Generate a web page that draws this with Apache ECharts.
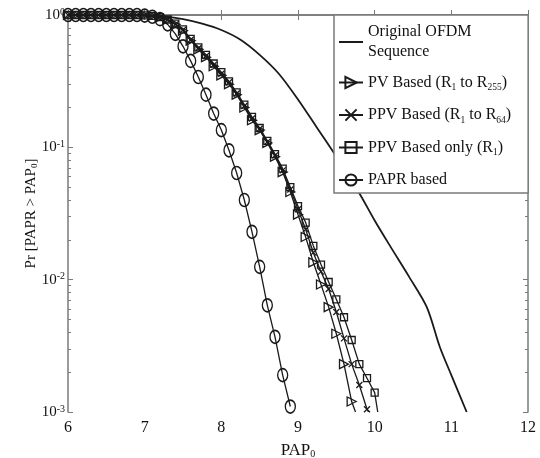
<!DOCTYPE html>
<html>
<head>
<meta charset="utf-8">
<script src="https://cdn.jsdelivr.net/npm/echarts@6/dist/echarts.min.js"></script>
<style>
  html, body { margin: 0; padding: 0; background: #fff; }
  #chart { width: 540px; height: 458px; }
</style>
</head>
<body>
<div id="chart"></div>
<script>
// x positions of the markers (PAP0 in dB)
var stepX = [6.0, 6.1, 6.2, 6.3, 6.4, 6.5, 6.6, 6.7, 6.8, 6.9,
             7.0, 7.1, 7.2, 7.3, 7.4, 7.5, 7.6, 7.7, 7.8, 7.9,
             8.0, 8.1, 8.2, 8.3, 8.4, 8.5, 8.6, 8.7, 8.8, 8.9,
             9.0, 9.1, 9.2, 9.3, 9.4, 9.5, 9.6, 9.7, 9.8, 9.9, 10.0];

// original OFDM sequence (no markers)
var ofdmX = [6.0, 6.5, 7.0, 7.25, 7.5, 7.75, 8.0, 8.25, 8.5, 8.75, 9.0, 9.25, 9.5, 9.8, 10.0, 10.2, 10.45, 10.68, 10.85, 11.0, 11.2];
var ofdmY = [1, 1, 0.995, 0.975, 0.93, 0.86, 0.77, 0.65, 0.5, 0.36, 0.23, 0.14, 0.085, 0.045, 0.028, 0.018, 0.0105, 0.0062, 0.0031, 0.0019, 0.001];

// PV based (R1 to R255)
var pvY = [1, 1, 1, 1, 1, 1, 1, 1, 1, 1,
           0.995, 0.985, 0.96, 0.92, 0.85, 0.76, 0.64, 0.55, 0.48, 0.41,
           0.35, 0.30, 0.25, 0.20, 0.16, 0.135, 0.108, 0.085, 0.065, 0.046,
           0.031, 0.021, 0.0135, 0.0092, 0.0062, 0.0039, 0.0023, 0.0012];
var pvEnd = [9.75, 0.001];

// PPV based (R1 to R64)
var ppv64Y = [1, 1, 1, 1, 1, 1, 1, 1, 1, 1,
              0.995, 0.985, 0.96, 0.92, 0.85, 0.77, 0.65, 0.56, 0.49, 0.42,
              0.36, 0.31, 0.255, 0.205, 0.165, 0.138, 0.11, 0.087, 0.067, 0.048,
              0.034, 0.024, 0.016, 0.0115, 0.0085, 0.0057, 0.0036, 0.0023, 0.0016, 0.00105];
var ppv64End = [9.92, 0.001];

// PPV based only (R1)
var ppv1Y = [1, 1, 1, 1, 1, 1, 1, 1, 1, 1,
             0.995, 0.985, 0.965, 0.925, 0.86, 0.78, 0.66, 0.57, 0.5, 0.43,
             0.37, 0.315, 0.26, 0.21, 0.17, 0.14, 0.112, 0.089, 0.069, 0.05,
             0.036, 0.027, 0.018, 0.013, 0.0096, 0.0071, 0.0052, 0.0035, 0.0023, 0.0018, 0.0014];
var ppv1End = [10.04, 0.001];

// PAPR based
var paprY = [1, 1, 1, 1, 1, 1, 1, 1, 1, 1,
             0.99, 0.97, 0.93, 0.85, 0.72, 0.58, 0.45, 0.34, 0.25, 0.18,
             0.135, 0.095, 0.064, 0.04, 0.023, 0.0125, 0.0064, 0.0037, 0.0019, 0.0011];

var yDecades = [-3, -2, -1, 0];
var minorTickLog = [];
yDecades.slice(0, 3).forEach(function (d) {
  [2, 3, 4, 5, 6, 7, 8, 9].forEach(function (k) {
    minorTickLog.push(d + Math.log10(k));
  });
});

var FONT = "Liberation Serif";
var INK = "#1a1a1a";
var AXIS = "#7a7a7a";

function pairs(xs, ys) {
  return ys.map(function (y, i) { return [xs[i], y]; });
}
function withEnd(list, end) {
  return list.concat([{ value: end, symbol: "none" }]);
}

var markerStyle = { color: "transparent", borderColor: INK, borderWidth: 1.3 };

var names = [
  "Original OFDM Sequence",
  "PV Based (R1 to R255)",
  "PPV Based (R1 to R64)",
  "PPV Based only (R1)",
  "PAPR based"
];
var legendText = {};
legendText[names[0]] = "{t|Original OFDM}\n{t|Sequence}";
legendText[names[1]] = "{t|PV Based (R}{s|1}{t| to R}{s|255}{t|)}";
legendText[names[2]] = "{t|PPV Based (R}{s|1}{t| to R}{s|64}{t|)}";
legendText[names[3]] = "{t|PPV Based only (R}{s|1}{t|)}";
legendText[names[4]] = "{t|PAPR based}";

var hiddenAxisParts = {
  axisLabel: { show: false },
  splitLine: { show: false }
};

var option = {
  animation: false,
  backgroundColor: "#fff",
  grid: { left: 68, right: 12, top: 15, bottom: 46, containLabel: false, outerBoundsMode: "none" },
  legend: {
    orient: "vertical",
    left: 334,
    top: 15,
    padding: [9, 17, 5, 4],
    itemWidth: 24,
    itemHeight: 14,
    itemGap: 14.5,
    borderColor: AXIS,
    borderWidth: 1.5,
    backgroundColor: "#fff",
    selectedMode: false,
    data: [
      { name: names[0], itemStyle: { color: "transparent", borderColor: "transparent" } },
      names[1], names[2], names[3], names[4]
    ],
    formatter: function (name) { return legendText[name]; },
    textStyle: {
      color: "#111",
      fontFamily: FONT,
      rich: {
        t: { fontSize: 16, lineHeight: 20, fontFamily: FONT, color: "#111" },
        s: { fontSize: 9.5, lineHeight: 8, verticalAlign: "bottom", fontFamily: FONT, color: "#111" }
      }
    }
  },
  xAxis: [
    {
      type: "value",
      min: 6,
      max: 12,
      interval: 1,
      position: "bottom",
      name: "PAP{s|0}",
      nameLocation: "middle",
      nameGap: 30,
      nameMoveOverlap: false,
      nameTextStyle: {
        fontFamily: FONT,
        fontSize: 17,
        color: "#111",
        rich: { s: { fontSize: 10, verticalAlign: "bottom", lineHeight: 8, fontFamily: FONT, color: "#111" } }
      },
      axisLine: { lineStyle: { color: AXIS, width: 1.5 } },
      axisTick: { inside: true, length: 5, lineStyle: { color: AXIS } },
      axisLabel: { fontFamily: FONT, fontSize: 16, color: "#111", margin: 8 },
      splitLine: { show: false }
    },
    Object.assign({
      type: "value",
      min: 6,
      max: 12,
      interval: 1,
      position: "top",
      axisLine: { lineStyle: { color: AXIS, width: 1.5 } },
      axisTick: { inside: true, length: 5, lineStyle: { color: AXIS } }
    }, hiddenAxisParts)
  ],
  yAxis: [
    {
      type: "log",
      logBase: 10,
      min: 0.001,
      max: 1,
      position: "left",
      name: "Pr [PAPR > PAP{s|0}]",
      nameLocation: "middle",
      nameGap: 29,
      nameMoveOverlap: false,
      nameRotate: 90,
      nameTextStyle: {
        fontFamily: FONT,
        fontSize: 15,
        color: "#111",
        rich: { s: { fontSize: 9, verticalAlign: "bottom", lineHeight: 8, fontFamily: FONT, color: "#111" } }
      },
      axisLine: { lineStyle: { color: AXIS, width: 1.5 } },
      axisTick: { inside: true, length: 5, lineStyle: { color: AXIS } },
      axisLabel: {
        margin: 3,
        formatter: function (v) {
          var e = Math.round(Math.log10(v));
          return "{b|10}{p|" + e + "}";
        },
        rich: {
          b: { fontFamily: FONT, fontSize: 15, color: "#111", lineHeight: 16 },
          p: { fontFamily: FONT, fontSize: 10, color: "#111", verticalAlign: "top", lineHeight: 10 }
        }
      },
      splitLine: { show: false }
    },
    Object.assign({
      type: "log",
      logBase: 10,
      min: 0.001,
      max: 1,
      position: "right",
      axisLine: { lineStyle: { color: AXIS, width: 1.5 } },
      axisTick: { inside: true, length: 5, lineStyle: { color: AXIS } }
    }, hiddenAxisParts),
    Object.assign({
      type: "value",
      min: -3,
      max: 0,
      position: "left",
      axisLine: { show: false },
      axisTick: { inside: true, length: 3, customValues: minorTickLog, lineStyle: { color: AXIS } }
    }, hiddenAxisParts),
    Object.assign({
      type: "value",
      min: -3,
      max: 0,
      position: "right",
      axisLine: { show: false },
      axisTick: { inside: true, length: 3, customValues: minorTickLog, lineStyle: { color: AXIS } }
    }, hiddenAxisParts)
  ],
  series: [
    {
      name: names[0],
      type: "line",
      clip: false,
      symbol: "none",
      smooth: 0.3,
      lineStyle: { color: INK, width: 1.8 },
      data: pairs(ofdmX, ofdmY)
    },
    {
      name: names[1],
      type: "line",
      clip: false,
      symbol: "triangle",
      symbolRotate: -90,
      symbolSize: 9,
      itemStyle: markerStyle,
      lineStyle: { color: INK, width: 1.3 },
      data: withEnd(pairs(stepX, pvY), pvEnd)
    },
    {
      name: names[2],
      type: "line",
      clip: false,
      symbol: "path://M0,0L10,10M0,10L10,0",
      symbolSize: 6,
      itemStyle: markerStyle,
      lineStyle: { color: INK, width: 1.3 },
      data: withEnd(pairs(stepX, ppv64Y), ppv64End)
    },
    {
      name: names[3],
      type: "line",
      clip: false,
      symbol: "rect",
      symbolSize: 7,
      itemStyle: markerStyle,
      lineStyle: { color: INK, width: 1.3 },
      data: withEnd(pairs(stepX, ppv1Y), ppv1End)
    },
    {
      name: names[4],
      type: "line",
      clip: false,
      symbol: "circle",
      symbolSize: [10, 13],
      itemStyle: { color: "transparent", borderColor: INK, borderWidth: 1.5 },
      lineStyle: { color: INK, width: 1.3 },
      data: pairs(stepX, paprY)
    }
  ]
};

var myChart = echarts.init(document.getElementById("chart"), null, { renderer: "canvas" });
myChart.setOption(option);
</script>
</body>
</html>
